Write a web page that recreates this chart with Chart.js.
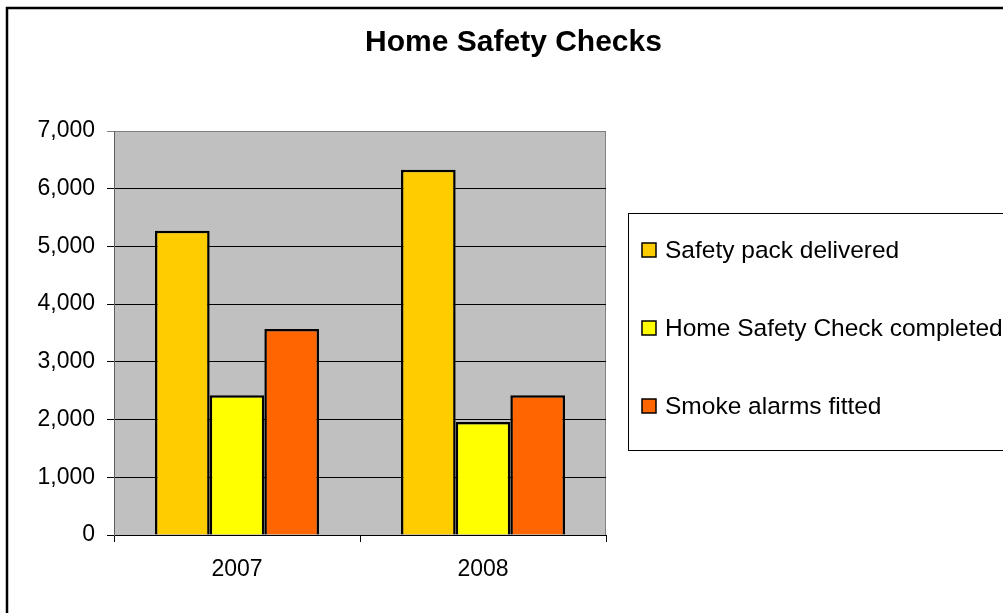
<!DOCTYPE html>
<html>
<head>
<meta charset="utf-8">
<title>Home Safety Checks</title>
<script src="https://cdn.jsdelivr.net/npm/chart.js@4"></script>
<style>
  html, body { margin: 0; padding: 0; background: #fff; }
  canvas { display: block; }
</style>
</head>
<body>
<canvas id="chart" width="1003" height="613"></canvas>
<script>
const years = ['2007', '2008'];
const safetyPacks = [5270, 6330];
const checksCompleted = [2420, 1960];
const alarmsFitted = [3570, 2420];
const yTicks = [0, 1000, 2000, 3000, 4000, 5000, 6000, 7000];

const FONT = "'Liberation Sans', Arial, sans-serif";

// grey plot area with a thin frame, drawn before the grid
const plotBackground = {
    id: 'plotBackground',
    afterLayout(chart) {
        // title is centred on the whole chart, not just the plot
        const t = chart.titleBlock;
        if (t) {
            t.left = 0;
            t.right = 1027;
            t.width = 1027;
        }
    },
    beforeDraw(chart) {
        const { ctx, chartArea: a } = chart;
        ctx.save();
        ctx.fillStyle = '#c0c0c0';
        ctx.fillRect(a.left, a.top, a.right - a.left, a.bottom - a.top);
        ctx.strokeStyle = '#808080';
        ctx.lineWidth = 1;
        ctx.strokeRect(a.left + 0.5, a.top + 0.5, a.right - a.left - 1, a.bottom - a.top);
        ctx.restore();
    }
};

// boxed legend on the right plus the outer chart border
const boxLegend = {
    id: 'boxLegend',
    afterDraw(chart) {
        const ctx = chart.ctx;
        ctx.save();
        ctx.strokeStyle = '#000';
        ctx.lineWidth = 1;
        ctx.strokeRect(628.5, 213.5, 500, 237);

        chart.data.datasets.forEach((ds, i) => {
            const y = 250 + i * 78;
            ctx.fillStyle = ds.backgroundColor;
            ctx.fillRect(642, y - 7, 14, 14);
            ctx.lineWidth = 1.5;
            ctx.strokeStyle = '#000';
            ctx.strokeRect(642, y - 7, 14, 14);
            ctx.fillStyle = '#000';
            ctx.font = '24.5px ' + FONT;
            ctx.textBaseline = 'middle';
            ctx.textAlign = 'left';
            ctx.fillText(ds.label, 665, y + 1);
        });

        ctx.lineWidth = 2.5;
        ctx.strokeStyle = '#000';
        ctx.strokeRect(7, 8, 1100, 700);
        ctx.restore();
    }
};

new Chart(document.getElementById('chart'), {
    type: 'bar',
    data: {
        labels: years,
        datasets: [
            {
                label: 'Safety pack delivered',
                data: safetyPacks,
                backgroundColor: '#ffcc00'
            },
            {
                label: 'Home Safety Check completed',
                data: checksCompleted,
                backgroundColor: '#ffff00'
            },
            {
                label: 'Smoke alarms fitted',
                data: alarmsFitted,
                backgroundColor: '#ff6600'
            }
        ]
    },
    options: {
        responsive: false,
        animation: false,
        devicePixelRatio: 1,
        layout: { padding: { left: 0, right: 397, top: 0, bottom: 0 } },
        datasets: {
            bar: {
                borderColor: '#000',
                borderWidth: 2.5,
                categoryPercentage: 0.667,
                barPercentage: 1
            }
        },
        plugins: {
            legend: { display: false },
            tooltip: { enabled: false },
            title: {
                display: true,
                text: 'Home Safety Checks',
                color: '#000',
                font: { family: FONT, size: 30, weight: 'bold' },
                padding: { top: 25, bottom: 70 }
            }
        },
        scales: {
            x: {
                afterFit(scale) { scale.height = 78; },
                grid: {
                    drawOnChartArea: false,
                    drawTicks: true,
                    tickLength: 7,
                    color: '#000'
                },
                border: { color: '#000', width: 1 },
                ticks: {
                    color: '#000',
                    padding: 14,
                    font: { family: FONT, size: 23 }
                }
            },
            y: {
                min: 0,
                max: 7000,
                afterFit(scale) { scale.width = 114; },
                afterBuildTicks(scale) {
                    scale.ticks = yTicks.map(v => ({ value: v }));
                },
                grid: {
                    color: ctx => (ctx.tick && ctx.tick.value === 7000 ? '#808080' : '#000'),
                    lineWidth: 1,
                    tickLength: 7
                },
                border: { color: '#606060', width: 1 },
                ticks: {
                    color: '#000',
                    padding: 12,
                    font: { family: FONT, size: 23 },
                    callback: v => v.toLocaleString('en-US')
                }
            }
        }
    },
    plugins: [plotBackground, boxLegend]
});
</script>
</body>
</html>
